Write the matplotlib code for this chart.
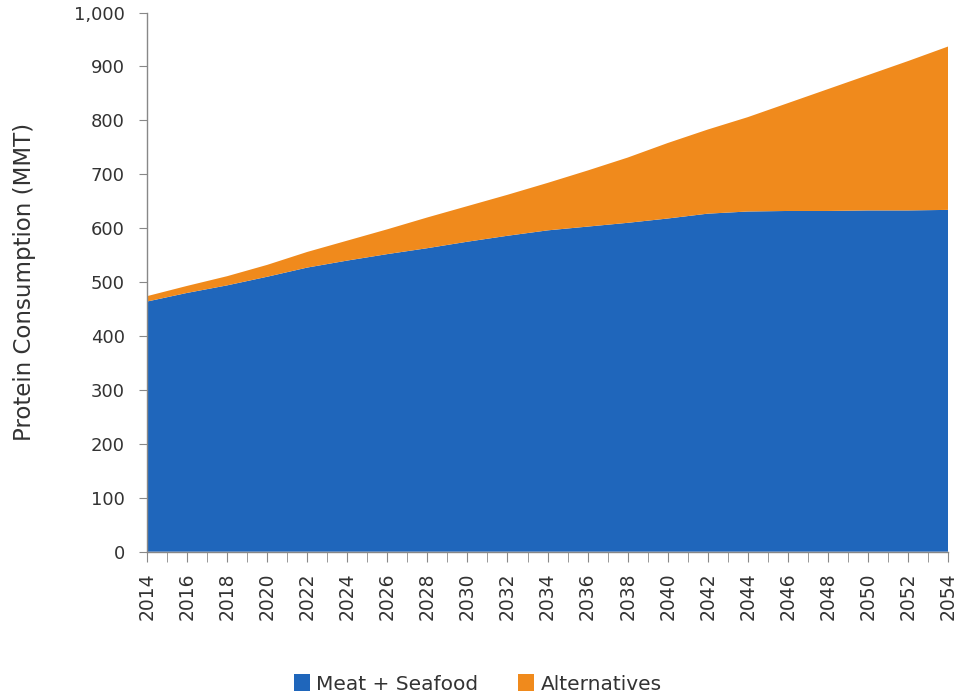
import matplotlib
matplotlib.use("Agg")
import matplotlib.pyplot as plt
from matplotlib.ticker import FuncFormatter, MultipleLocator

years = [2014, 2016, 2018, 2020, 2022, 2024, 2026, 2028, 2030, 2032, 2034,
         2036, 2038, 2040, 2042, 2044, 2046, 2048, 2050, 2052, 2054]
meat_seafood = [464, 480, 494, 510, 527, 540, 552, 563, 575, 586, 596,
                603, 610, 618, 627, 631, 632, 632, 633, 633, 634]
total = [474, 493, 511, 532, 556, 577, 598, 620, 641, 662, 684,
         707, 731, 758, 783, 806, 832, 858, 884, 910, 937]
alternatives = [t - m for t, m in zip(total, meat_seafood)]

series_names = ["Meat + Seafood", "Alternatives"]
colors = ["#1f66bb", "#f08a1c"]

plt.rcParams['font.family'] = ['DejaVu Sans']
fig = plt.figure(figsize=(9.61, 6.98), dpi=100)
ax = fig.add_axes([0.153, 0.2096, 0.8335, 0.7724])

ax.stackplot(years, meat_seafood, alternatives, colors=colors,
             labels=series_names, linewidth=0)

ax.set_xlim(2014, 2054)
ax.set_ylim(0, 1000)
ax.set_xticks(years)
ax.xaxis.set_minor_locator(MultipleLocator(1))
ax.yaxis.set_major_locator(MultipleLocator(100))
ax.yaxis.set_major_formatter(FuncFormatter(lambda v, p: f"{int(v):,}"))

for s in ["top", "right"]:
    ax.spines[s].set_visible(False)
for s in ["left", "bottom"]:
    ax.spines[s].set_color("#888888")
    ax.spines[s].set_linewidth(1)

ax.tick_params(axis="y", length=6, color="#888888", labelsize=13,
               labelcolor="#333333", pad=10)
ax.tick_params(axis="x", which="both", length=7, color="#888888",
               labelsize=13.5, labelcolor="#333333", rotation=90, pad=8)

ax.set_ylabel("Protein Consumption (MMT)", fontsize=16.5, color="#333333")
ax.yaxis.set_label_coords(-0.138, 0.5)

handles, labels = ax.get_legend_handles_labels()
fig.legend(handles, labels, loc="center", bbox_to_anchor=(0.497, 0.02),
           ncol=2, frameon=False, fontsize=14.5, handlelength=0.8,
           handleheight=0.9, handletextpad=0.3, columnspacing=2.0,
           labelcolor="#333333")

fig.savefig("out.png", dpi=100)
